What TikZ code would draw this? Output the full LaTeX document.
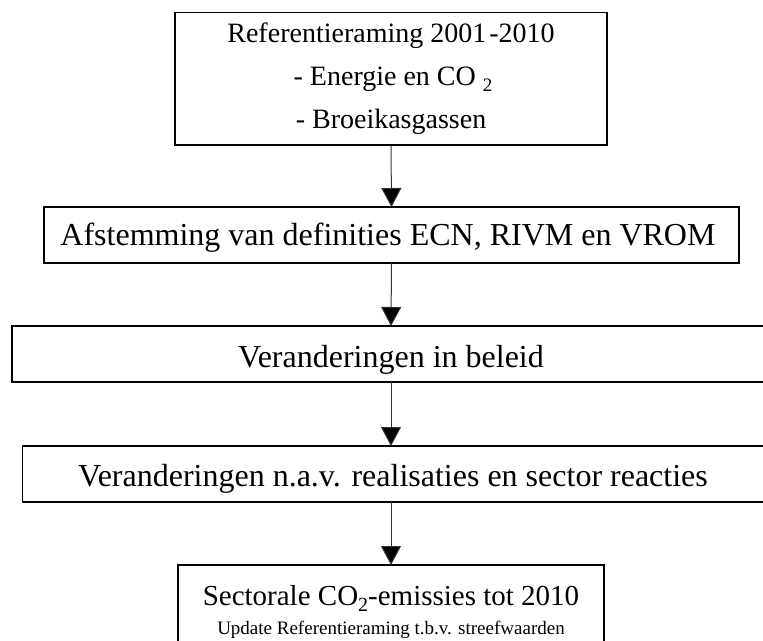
\documentclass[tikz,border=0pt]{standalone}
\usepackage{fontspec}
\setmainfont{Liberation Serif}
\usetikzlibrary{arrows.meta}
\begin{document}
\begin{tikzpicture}[x=1pt,y=-1pt,
  box/.style={draw=black, line width=1.2pt, inner sep=0pt, outer sep=0pt, rectangle},
  lbl/.style={anchor=base, inner sep=0pt},
  arr/.style={draw=black!80, line width=1pt, -{Triangle[width=20pt,length=19pt,fill=black]}},
  big/.style={font=\fontsize{32}{38}\selectfont},
  mid/.style={font=\fontsize{28}{43}\selectfont}]
\useasboundingbox (0,0) rectangle (763,640);
\clip (0,0) rectangle (763,640);
% boxes
\node[box, minimum width=432pt, minimum height=132.3pt] (b1) at (391,78.85) {};
\node[box, minimum width=695pt, minimum height=56pt] (b2) at (391.5,235) {};
\node[box, minimum width=758pt, minimum height=56pt] (b3) at (391,354) {};
\node[box, minimum width=757pt, minimum height=56pt] (b4) at (401.35,474) {};
\node[box, minimum width=426pt, minimum height=100pt] (b5) at (391,615) {};
% texts
\node[lbl, mid] (t1a) at (391,42) {Referentieraming 2001\kern3pt-2010};
\node[lbl, mid] (t1b) at (393,85) {- Energie en CO\ \raisebox{-6pt}{\fontsize{19}{19}\selectfont 2}};
\node[lbl, mid] (t1c) at (391,128) {- Broeikasgassen};
\node[lbl, big] (t2) at (388,245) {Afstemming van definities ECN, RIVM en VROM};
\node[lbl, big] (t3) at (391,367) {Veranderingen in beleid};
\node[lbl, big] (t4) at (393,486.5) {Veranderingen n.a.v. realisaties en sector reacties};
\node[lbl, font=\fontsize{29}{34}\selectfont] (t5a) at (391,605) {Sectorale CO\raisebox{-6pt}{\fontsize{20}{20}\selectfont 2}-emissies tot 2010};
\node[lbl, font=\fontsize{19}{22}\selectfont] (t5b) at (391,634) {Update Referentieraming t.b.v. streefwaarden};
% arrows
\draw[arr] (b1.south) -- (b2.north);
\draw[arr] (b2.south) -- (b3.north);
\draw[arr] (b3.south) -- (b3.south |- b4.north);
\draw[arr] (b3.south |- b4.south) -- (b5.north);
\end{tikzpicture}
\end{document}
